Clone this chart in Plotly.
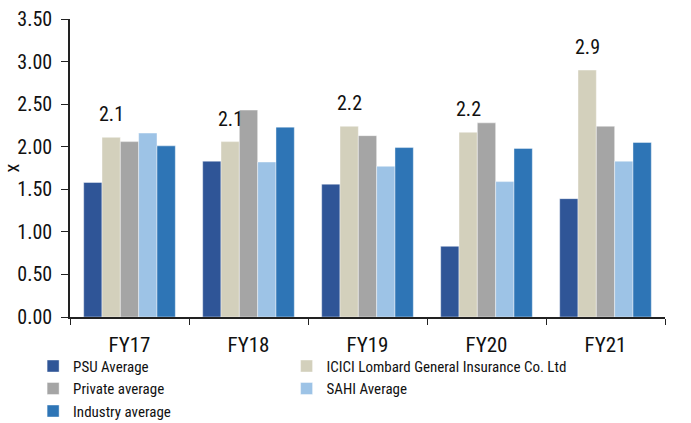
import plotly.graph_objects as go

years = ["FY17", "FY18", "FY19", "FY20", "FY21"]

psu_avg = [1.58, 1.83, 1.56, 0.83, 1.39]
icici_lombard = [2.11, 2.06, 2.24, 2.17, 2.90]
private_avg = [2.06, 2.43, 2.13, 2.28, 2.24]
sahi_avg = [2.16, 1.82, 1.77, 1.59, 1.83]
industry_avg = [2.01, 2.23, 1.99, 1.98, 2.05]

# (name, values, colour, legend column)
series = [
    ("PSU Average", psu_avg, "#2F5597", "legend"),
    ("ICICI Lombard General Insurance Co. Ltd", icici_lombard, "#D3D0BC", "legend2"),
    ("Private average", private_avg, "#A5A5A5", "legend"),
    ("SAHI Average", sahi_avg, "#9DC3E6", "legend2"),
    ("Industry average", industry_avg, "#2E75B6", "legend"),
]

FONT = "Liberation Sans Narrow, Roboto Condensed, DejaVu Sans Condensed, Arial Narrow, sans-serif"

fig = go.Figure()
for name, vals, color, leg in series:
    fig.add_trace(go.Bar(
        x=years, y=vals, name=name, legend=leg,
        marker=dict(color=color, line=dict(color="rgba(255,255,255,0.7)", width=0.6)),
    ))

# value labels above the ICICI Lombard bars
n_series = len(series)
plot_w = 691 - 70 - 26
cat_w = plot_w / len(years)
bargap = 0.23
bar_w = cat_w * (1 - bargap) / n_series
icici_offset = (1 - (n_series - 1) / 2) * bar_w
for yr, v in zip(years, icici_lombard):
    fig.add_annotation(
        x=yr, y=v, text=f"{v:.1f}", showarrow=False,
        xshift=icici_offset, yshift=23,
        font=dict(size=20, color="#111111", family=FONT),
    )

legend_style = dict(
    orientation="v", yanchor="top", xanchor="left",
    font=dict(size=15, family=FONT), itemwidth=30,
    traceorder="normal", tracegroupgap=0,
    bgcolor="rgba(0,0,0,0)",
)

fig.update_layout(
    width=691, height=423,
    margin=dict(l=70, r=26, t=19, b=106, autoexpand=False),
    barmode="group", bargap=bargap, bargroupgap=0,
    plot_bgcolor="white", paper_bgcolor="white",
    font=dict(family=FONT, color="#111111"),
    showlegend=True,
    legend=dict(x=-0.062, y=-0.11, **legend_style),
    legend2=dict(x=0.364, y=-0.11, **legend_style),
    xaxis=dict(
        showline=True, linecolor="#222222", linewidth=1.5,
        ticks="outside", tickson="boundaries", ticklen=6, tickcolor="#222222",
        tickfont=dict(size=21, family=FONT), showgrid=False,
        ticklabelstandoff=8,
    ),
    yaxis=dict(
        range=[0, 3.5], dtick=0.5, tickformat=".2f",
        showline=True, linecolor="#222222", linewidth=1.5,
        ticks="outside", ticklen=7, tickcolor="#222222",
        tickfont=dict(size=20, family=FONT), showgrid=False, zeroline=False,
        ticklabelstandoff=5,
        title=dict(text="x", font=dict(size=20, family=FONT), standoff=4),
    ),
)

fig.write_html("out.html")
